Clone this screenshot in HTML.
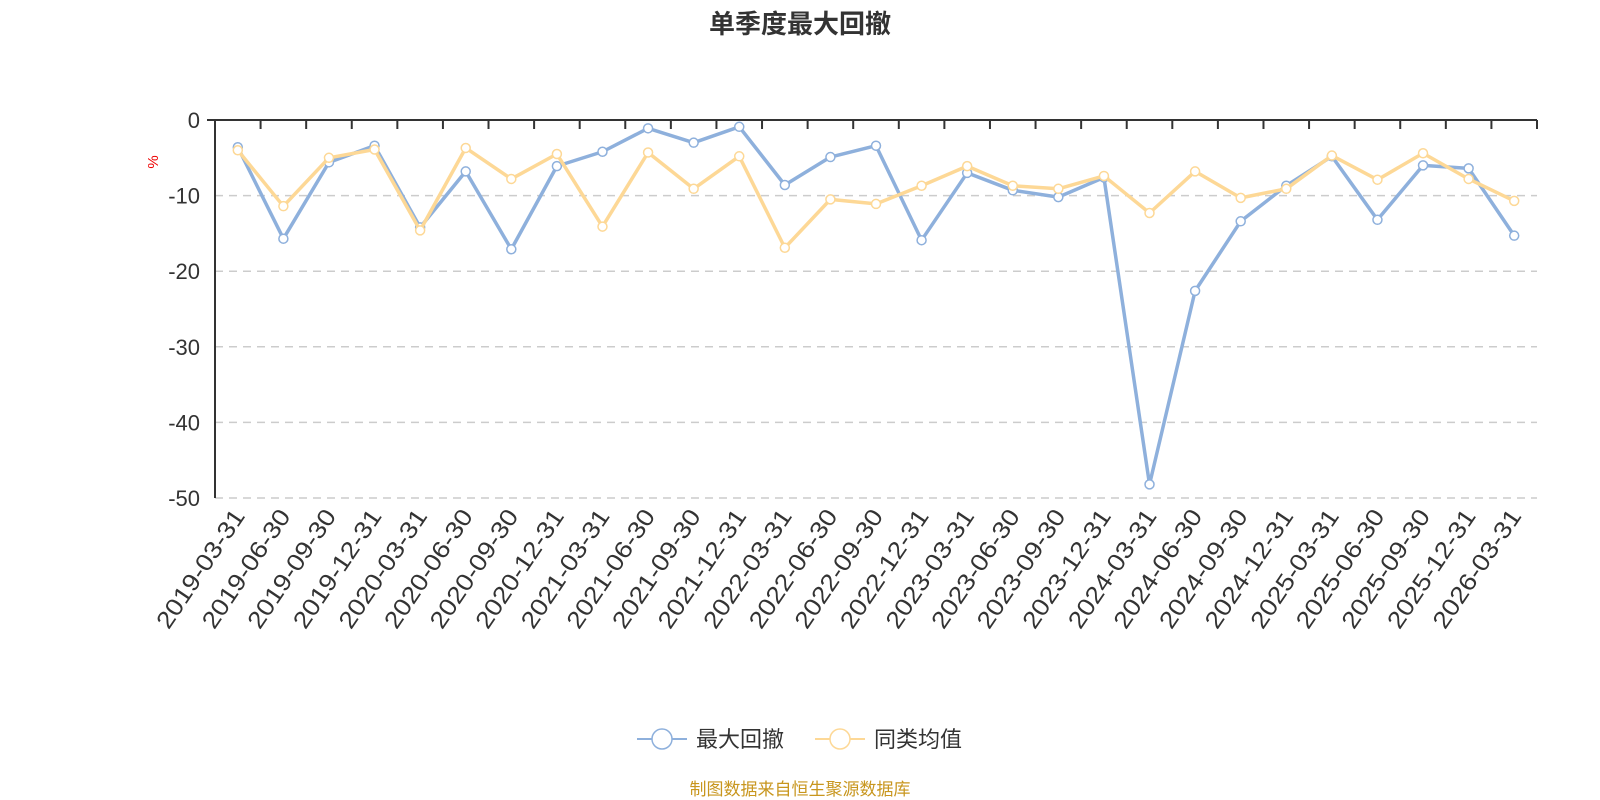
<!DOCTYPE html><html><head><meta charset="utf-8"><style>body{margin:0;background:#fff}svg{display:block}text{font-family:"Liberation Sans","Noto Sans CJK SC",sans-serif}</style></head><body>
<svg width="1600" height="800" xmlns="http://www.w3.org/2000/svg">
<text x="800" y="33" text-anchor="middle" font-size="26" font-weight="bold" fill="#333">单季度最大回撤</text>
<text x="158" y="162" font-size="15" fill="#e00" transform="rotate(-90 158 162)" text-anchor="middle">%</text>
<g id="g"></g>
<g transform="translate(800,739)">
<line x1="-163" y1="0" x2="-113" y2="0" stroke="#8eb0dc" stroke-width="2"/><circle cx="-138" cy="0" r="10" fill="#fff" stroke="#8eb0dc" stroke-width="1.5"/>
<text x="-104" y="8" font-size="22" fill="#333">最大回撤</text>
<line x1="15" y1="0" x2="65" y2="0" stroke="#fdd896" stroke-width="2"/><circle cx="40" cy="0" r="10" fill="#fff" stroke="#fdd896" stroke-width="1.5"/>
<text x="74" y="8" font-size="22" fill="#333">同类均值</text>
</g>
<text x="800" y="795" text-anchor="middle" font-size="17" fill="#c8961e">制图数据来自恒生聚源数据库</text>
</svg>
<script>
const b=[-3.6,-15.7,-5.6,-3.4,-14.2,-6.8,-17.1,-6.1,-4.2,-1.1,-3.0,-0.9,-8.6,-4.9,-3.4,-15.9,-7.0,-9.3,-10.2,-7.6,-48.2,-22.6,-13.4,-8.7,-4.8,-13.2,-6.0,-6.4,-15.3];
const y=[-4.0,-11.4,-5.0,-3.9,-14.6,-3.7,-7.8,-4.5,-14.1,-4.3,-9.1,-4.8,-16.9,-10.5,-11.1,-8.7,-6.1,-8.7,-9.1,-7.4,-12.3,-6.8,-10.3,-9.1,-4.7,-7.9,-4.4,-7.8,-10.7];
const L=['2019-03-31','2019-06-30','2019-09-30','2019-12-31','2020-03-31','2020-06-30','2020-09-30','2020-12-31','2021-03-31','2021-06-30','2021-09-30','2021-12-31','2022-03-31','2022-06-30','2022-09-30','2022-12-31','2023-03-31','2023-06-30','2023-09-30','2023-12-31','2024-03-31','2024-06-30','2024-09-30','2024-12-31','2025-03-31','2025-06-30','2025-09-30','2025-12-31','2026-03-31'];
const x0=215,x1=1537,w=(x1-x0)/29,Y=v=>120-v*7.56;let s='';
for(let i=1;i<=5;i++)s+=`<line x1="${x0}" x2="${x1}" y1="${Y(-10*i)}" y2="${Y(-10*i)}" stroke="#ccc" stroke-width="1.5" stroke-dasharray="8,6"/>`;
for(let i=0;i<=5;i++)s+=`<text x="200" y="${Y(-10*i)+8}" text-anchor="end" font-size="22" fill="#333">${i?-10*i:0}</text>`;
s+=`<line x1="${x0}" x2="${x0}" y1="120" y2="${Y(-50)}" stroke="#333" stroke-width="2"/><line x1="${x0-8}" x2="${x1}" y1="120" y2="120" stroke="#333" stroke-width="2"/>`;
for(let i=0;i<=29;i++)s+=`<line x1="${x0+i*w}" x2="${x0+i*w}" y1="120" y2="129" stroke="#333" stroke-width="2"/>`;
L.forEach((l,i)=>{const cx=x0+(i+.5)*w+8;s+=`<text x="${cx}" y="516" text-anchor="end" font-size="24" fill="#333" textLength="138" lengthAdjust="spacingAndGlyphs" transform="rotate(-56 ${cx} 516)">${l}</text>`});
function ser(d,c){let p=d.map((v,i)=>`${x0+(i+.5)*w},${Y(v)}`).join(' ');s+=`<polyline points="${p}" fill="none" stroke="${c}" stroke-width="3.5" stroke-linejoin="round"/>`;d.forEach((v,i)=>s+=`<circle cx="${x0+(i+.5)*w}" cy="${Y(v)}" r="4.5" fill="#fff" stroke="${c}" stroke-width="1.5"/>`)}
ser(b,'#8eb0dc');ser(y,'#fdd896');
document.getElementById('g').innerHTML=s;
</script></body></html>
